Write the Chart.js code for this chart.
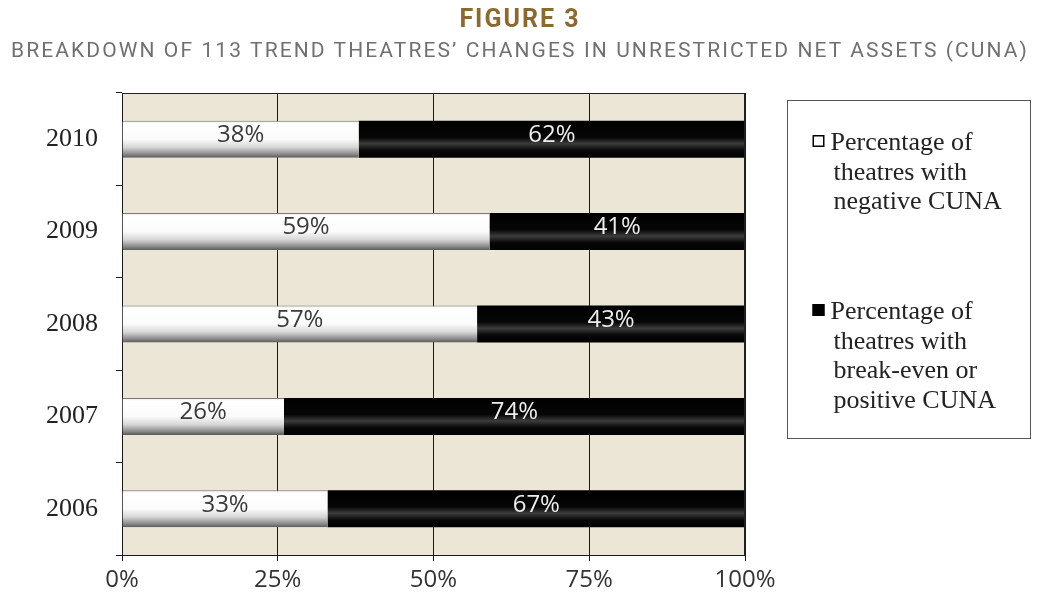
<!DOCTYPE html>
<html>
<head>
<meta charset="utf-8">
<script src="https://cdn.jsdelivr.net/npm/chart.js@4.4.1/dist/chart.umd.min.js"></script>
<style>
  html, body { margin: 0; padding: 0; background: #ffffff; }
  #wrap { position: relative; width: 1040px; height: 599px; }
  #title { position: absolute; left: 0; width: 1040px; top: 4px; line-height: 30px; text-align: center;
           font-family: Roboto, "Open Sans", sans-serif; font-weight: 700; font-size: 25px;
           letter-spacing: 2px; color: #8c6a2f; }
  #subtitle { position: absolute; left: 0; width: 1040px; top: 38px; line-height: 24px; text-align: center;
              font-family: Roboto, "Open Sans", sans-serif; font-size: 21px;
              letter-spacing: 2.1px; color: #6f7073; white-space: nowrap; }
  canvas { position: absolute; left: 0; top: 0; }
</style>
</head>
<body>
<div id="wrap">
  <canvas id="chart" width="1040" height="599"></canvas>
  <div id="title">FIGURE 3</div>
  <div id="subtitle">BREAKDOWN OF 113 TREND THEATRES’ CHANGES IN UNRESTRICTED NET ASSETS (CUNA)</div>
</div>
<script>
// Share of theatres by CUNA outcome, per year (percent)
const years = ['2010', '2009', '2008', '2007', '2006'];
const negativeShare = [38, 59, 57, 26, 33];
const positiveShare = [62, 41, 43, 74, 67];
const xTickValues = [0, 25, 50, 75, 100];
const seriesLabels = [
  'Percentage of theatres with negative CUNA',
  'Percentage of theatres with break-even or positive CUNA'
];
const legendLines = [
  ['Percentage of', 'theatres with', 'negative CUNA'],
  ['Percentage of', 'theatres with', 'break-even or', 'positive CUNA']
];

const BAR_PCT = 0.4;

// Vertical shading so each bar looks like a shiny cylinder
function barFill(ctx, stops) {
  const chart = ctx.chart;
  const yScale = chart.scales && chart.scales.y;
  if (!chart.chartArea || !yScale) return stops[Math.floor(stops.length / 2)][1];
  const c = yScale.getPixelForValue(ctx.dataIndex);
  const half = (yScale.height / years.length) * BAR_PCT / 2;
  const g = chart.ctx.createLinearGradient(0, c - half, 0, c + half);
  stops.forEach(([o, col]) => g.addColorStop(o, col));
  return g;
}
const whiteStops = [[0, '#e8e8e8'], [0.08, '#ffffff'], [0.5, '#fbfbfb'], [0.72, '#d6d6d6'], [0.9, '#8c8c8c'], [1, '#5a5a5a']];
const blackStops = [[0, '#000000'], [0.45, '#060606'], [0.62, '#3c3c3c'], [0.8, '#080808'], [1, '#000000']];

// Beige plot background and the frame around it
const plotFrame = {
  id: 'plotFrame',
  beforeDraw(chart) {
    const { ctx, chartArea: a } = chart;
    ctx.save();
    ctx.fillStyle = '#ebe6d5';
    ctx.fillRect(a.left, a.top, a.right - a.left, a.bottom - a.top);
    ctx.restore();
  },
  afterDatasetsDraw(chart) {
    const { ctx, chartArea: a } = chart;
    ctx.save();
    ctx.strokeStyle = '#222';
    ctx.lineWidth = 1;
    ctx.beginPath();
    ctx.moveTo(a.left, a.top + 0.5);
    ctx.lineTo(a.right, a.top + 0.5);
    ctx.moveTo(a.right - 0.5, a.top);
    ctx.lineTo(a.right - 0.5, a.bottom);
    ctx.stroke();
    ctx.restore();
  }
};

// Percent labels centred on each segment
const segmentLabels = {
  id: 'segmentLabels',
  afterDatasetsDraw(chart) {
    const { ctx } = chart;
    ctx.save();
    ctx.font = '24px "Open Sans", sans-serif';
    ctx.textAlign = 'center';
    ctx.textBaseline = 'middle';
    chart.data.datasets.forEach((ds, di) => {
      const meta = chart.getDatasetMeta(di);
      ctx.fillStyle = di === 0 ? '#3a3a3a' : '#eeeeee';
      meta.data.forEach((el, i) => {
        const x = (el.x + el.base) / 2;
        ctx.fillText(ds.data[i] + '%', x, el.y - 4);
      });
    });
    ctx.restore();
  }
};

// Boxed legend to the right of the plot
const boxLegend = {
  id: 'boxLegend',
  afterDraw(chart) {
    const { ctx, chartArea: a } = chart;
    const left = a.right + 42.5, top = 100.5, w = 243, h = 338;
    ctx.save();
    ctx.strokeStyle = '#555';
    ctx.lineWidth = 1;
    ctx.strokeRect(left, top, w, h);
    ctx.font = '26px "Liberation Serif", "Times New Roman", serif';
    ctx.textBaseline = 'alphabetic';
    const baselines = [150, 319];
    const lineH = 29.5;
    chart.data.datasets.forEach((ds, di) => {
      const y0 = baselines[di];
      const sx = left + 25, sy = y0 - 15;
      ctx.fillStyle = di === 0 ? '#ffffff' : '#000000';
      ctx.fillRect(sx, sy, 12, 12);
      ctx.strokeStyle = '#000';
      ctx.lineWidth = 1.5;
      ctx.strokeRect(sx + 0.75, sy + 0.75, 10.5, 10.5);
      ctx.fillStyle = '#222';
      legendLines[di].forEach((line, li) => {
        ctx.fillText(line, li === 0 ? sx + 18 : sx + 21, y0 + li * lineH);
      });
    });
    ctx.restore();
  }
};

new Chart(document.getElementById('chart'), {
  type: 'bar',
  data: {
    labels: years,
    datasets: [
      {
        label: seriesLabels[0],
        data: negativeShare,
        backgroundColor: (c) => barFill(c, whiteStops),
        borderColor: '#777',
        borderWidth: { top: 1, bottom: 0, left: 0, right: 0 },
        borderSkipped: false,
        barPercentage: BAR_PCT,
        categoryPercentage: 1
      },
      {
        label: seriesLabels[1],
        data: positiveShare,
        backgroundColor: (c) => barFill(c, blackStops),
        borderWidth: 0,
        barPercentage: BAR_PCT,
        categoryPercentage: 1
      }
    ]
  },
  options: {
    indexAxis: 'y',
    responsive: false,
    animation: false,
    layout: { padding: { top: 93, right: 295, left: 0, bottom: 0 } },
    plugins: {
      legend: { display: false },
      tooltip: { enabled: false },
      title: { display: false }
    },
    scales: {
      x: {
        type: 'linear',
        stacked: true,
        min: 0,
        max: 100,
        afterBuildTicks(scale) {
          scale.ticks = xTickValues.map(v => ({ value: v }));
        },
        afterFit(scale) { scale.height = 44; },
        ticks: {
          callback: (v) => v + '%',
          color: '#333',
          font: { family: '"Open Sans", sans-serif', size: 24 },
          padding: 5,
          maxRotation: 0
        },
        grid: { color: '#1a1a1a', lineWidth: 1, tickLength: 6, drawTicks: true },
        border: { display: true, color: '#1a1a1a', width: 1 }
      },
      y: {
        type: 'category',
        stacked: true,
        offset: true,
        afterFit(scale) { scale.width = 122; },
        ticks: {
          color: '#222',
          font: { family: '"Liberation Serif", "Times New Roman", serif', size: 26 },
          padding: 18
        },
        grid: { offset: true, drawOnChartArea: false, color: '#1a1a1a', tickLength: 6 },
        border: { display: true, color: '#1a1a1a', width: 1 }
      }
    }
  },
  plugins: [plotFrame, segmentLabels, boxLegend]
});
</script>
</body>
</html>
